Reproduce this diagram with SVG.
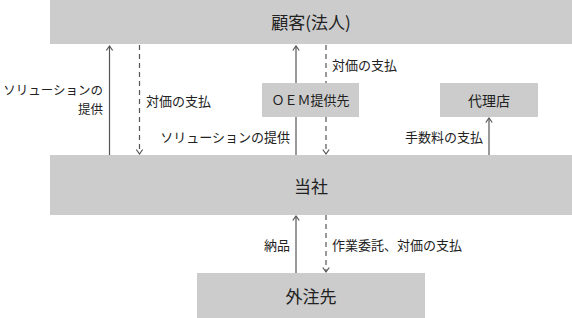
<svg xmlns="http://www.w3.org/2000/svg" width="572" height="318" viewBox="0 0 572 318">
  <style>
    .box { fill: #cccccc; }
    .title { font-family: "Noto Sans CJK JP", sans-serif; font-size: 17px; fill: #222; text-anchor: middle; }
    .small { font-family: "Noto Sans CJK JP", sans-serif; font-size: 13px; fill: #222; text-anchor: middle; }
    .lbl { font-family: "Noto Sans CJK JP", sans-serif; font-size: 13px; fill: #222; }
    .end { text-anchor: end; }
    .solid { stroke: #555; stroke-width: 1.2; fill: none; marker-end: url(#arr); }
    .dash { stroke: #555; stroke-width: 1.2; fill: none; stroke-dasharray: 5 4; marker-end: url(#arr); }
  </style>
  <defs>
    <marker id="arr" markerUnits="userSpaceOnUse" markerWidth="12" markerHeight="12" viewBox="-6 -6 12 12" refX="0" refY="0" orient="auto" overflow="visible">
      <path d="M-4.5,-3.2 L0,0 L-4.5,3.2" fill="none" stroke="#555" stroke-width="1.2"/>
    </marker>
  </defs>
  <rect width="572" height="318" fill="#ffffff"/>

  <g id="connectors">
    <line class="solid" x1="109.5" y1="155" x2="109.5" y2="46"/>
    <line class="dash" x1="139.5" y1="45" x2="139.5" y2="154"/>
    <line class="solid" x1="296" y1="155" x2="296" y2="46"/>
    <line class="dash" x1="326" y1="45" x2="326" y2="154"/>
    <line class="solid" x1="489" y1="155" x2="489" y2="118"/>
    <line class="solid" x1="296" y1="273" x2="296" y2="216"/>
    <line class="dash" x1="326" y1="215" x2="326" y2="272"/>
    <text class="lbl end" x="103" y="94.5" style="font-size:12.5px">ソリューションの</text>
    <text class="lbl end" x="103" y="113.5" style="font-size:12.5px">提供</text>
    <text class="lbl" x="146" y="106">対価の支払</text>
    <text class="lbl end" x="290" y="142">ソリューションの提供</text>
    <text class="lbl" x="332" y="70">対価の支払</text>
    <text class="lbl end" x="483" y="142">手数料の支払</text>
    <text class="lbl end" x="290" y="250">納品</text>
    <text class="lbl" x="332" y="250">作業委託、対価の支払</text>
  </g>

  <g id="customer">
    <rect class="box" x="50" y="0" width="522" height="44"/>
    <text class="title" x="311" y="29">顧客(法人)</text>
  </g>
  <g id="oem">
    <rect class="box" x="262" y="83" width="97" height="34"/>
    <text class="small" x="310.5" y="105">ＯＥＭ提供先</text>
  </g>
  <g id="agency">
    <rect class="box" x="440" y="83" width="98" height="34"/>
    <text class="small" x="489" y="106" style="font-size:14px">代理店</text>
  </g>
  <g id="company">
    <rect class="box" x="50" y="155" width="522" height="60"/>
    <text class="title" x="311" y="193">当社</text>
  </g>
  <g id="subcontractor">
    <rect class="box" x="197" y="273" width="228" height="45"/>
    <text class="title" x="311" y="303">外注先</text>
  </g>
</svg>
